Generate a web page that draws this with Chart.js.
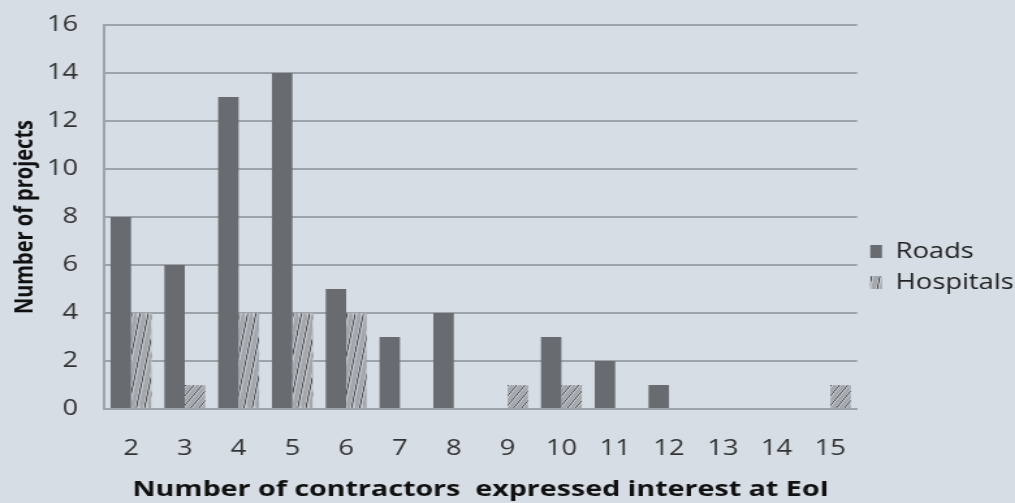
<!DOCTYPE html>
<html>
<head>
<meta charset="utf-8">
<script src="https://cdn.jsdelivr.net/npm/chart.js@4"></script>
<style>
  html, body { margin: 0; padding: 0; background: #d6dde5; overflow: hidden; }
  /* 原图横向被拉伸过，这里用 scaleX 还原 */
  #wrap { width: 780px; height: 503px; transform: scaleX(1.3013); transform-origin: 0 0; }
</style>
</head>
<body>
<div id="wrap"><canvas id="c"></canvas></div>
<script>
// 数据
const categories = ['2', '3', '4', '5', '6', '7', '8', '9', '10', '11', '12', '13', '14', '15'];
const roads      = [8, 6, 13, 14, 5, 3, 4, 0, 3, 2, 1, 0, 0, 0];
const hospitals  = [4, 1, 4, 4, 4, 0, 0, 1, 1, 0, 0, 0, 0, 1];
const yTicks     = [0, 2, 4, 6, 8, 10, 12, 14, 16];

const FONT = '"Open Sans", "Liberation Sans", sans-serif';
const GRID = '#9da3aa';
const CAT_PCT = 0.76;

// 斜线贴图（整张拉伸到每根柱子上，类似 Excel 的图片填充）
const T = 60, P = 24;
const tile = document.createElement('canvas');
tile.width = T; tile.height = T;
(() => {
  const g = tile.getContext('2d');
  g.fillStyle = '#c4c8cd';
  g.fillRect(0, 0, T, T);
  const line = (w, col, off) => {
    g.strokeStyle = col; g.lineWidth = w;
    for (let k = -4; k <= 4; k++) {
      g.beginPath();
      g.moveTo(k * P + off, T);
      g.lineTo(k * P + off + T, 0);
      g.stroke();
    }
  };
  line(9, '#a4a8ad', 4);
  line(2.5, '#474a4f', 15);
})();

function hatchFill(ctx) {
  const chart = ctx.chart;
  const pat = chart.ctx.createPattern(tile, 'repeat');
  const xs = chart.scales.x, ys = chart.scales.y;
  if (ctx.type !== 'data' || !xs || !ys) {
    pat.setTransform(new DOMMatrix().scale(0.3, 0.3));
    return pat;
  }
  const catW = xs.width / categories.length;
  const w = catW * CAT_PCT / 2;
  const left = xs.getPixelForValue(ctx.dataIndex);
  const top = ys.getPixelForValue(ctx.raw);
  const h = Math.max(1, ys.getPixelForValue(0) - top);
  pat.setTransform(new DOMMatrix().translate(left, top).scale(w / T, h / T));
  return pat;
}

new Chart(document.getElementById('c'), {
  type: 'bar',
  data: {
    labels: categories,
    datasets: [
      { label: 'Roads', data: roads, backgroundColor: '#686b70', borderWidth: 0 },
      { label: 'Hospitals', data: hospitals, backgroundColor: hatchFill, borderWidth: 0 },
    ],
  },
  options: {
    responsive: true,
    maintainAspectRatio: false,
    animation: false,
    layout: { padding: { top: 25, right: -9, left: 3, bottom: 0 } },
    datasets: { bar: { barPercentage: 1, categoryPercentage: CAT_PCT } },
    plugins: {
      tooltip: { enabled: false },
      legend: {
        position: 'right',
        title: { display: true, text: ' ', font: { size: 1 }, padding: { top: 5, bottom: 0 } },
        labels: {
          boxWidth: 9, boxHeight: 13, padding: 10,
          color: '#222', font: { family: FONT, size: 21 },
        },
      },
    },
    scales: {
      x: {
        afterFit: ax => { ax.height = 94; },
        grid: { display: false },
        border: { display: true, color: GRID, width: 2 },
        ticks: { color: '#333', font: { family: FONT, size: 21 }, padding: 19 },
        title: {
          display: true, text: 'Number of contractors  expressed interest at EoI',
          color: '#111', font: { family: FONT, size: 22, weight: 'bold' }, padding: { top: 0, bottom: 0 },
        },
      },
      y: {
        min: 0, max: 16,
        afterBuildTicks: ax => { ax.ticks = yTicks.map(v => ({ value: v })); },
        afterFit: ax => { ax.width = 77; ax.paddingTop = 0; ax.paddingBottom = 0; },
        grid: { color: GRID, lineWidth: 2, drawTicks: false },
        border: { display: true, color: GRID, width: 2 },
        ticks: { color: '#333', font: { family: FONT, size: 21 }, padding: 20 },
        title: {
          display: true, text: 'Number of projects',
          color: '#111', font: { family: FONT, size: 20, weight: 'bold' }, padding: { bottom: 0 },
        },
      },
    },
  },
});
</script>
</body>
</html>
